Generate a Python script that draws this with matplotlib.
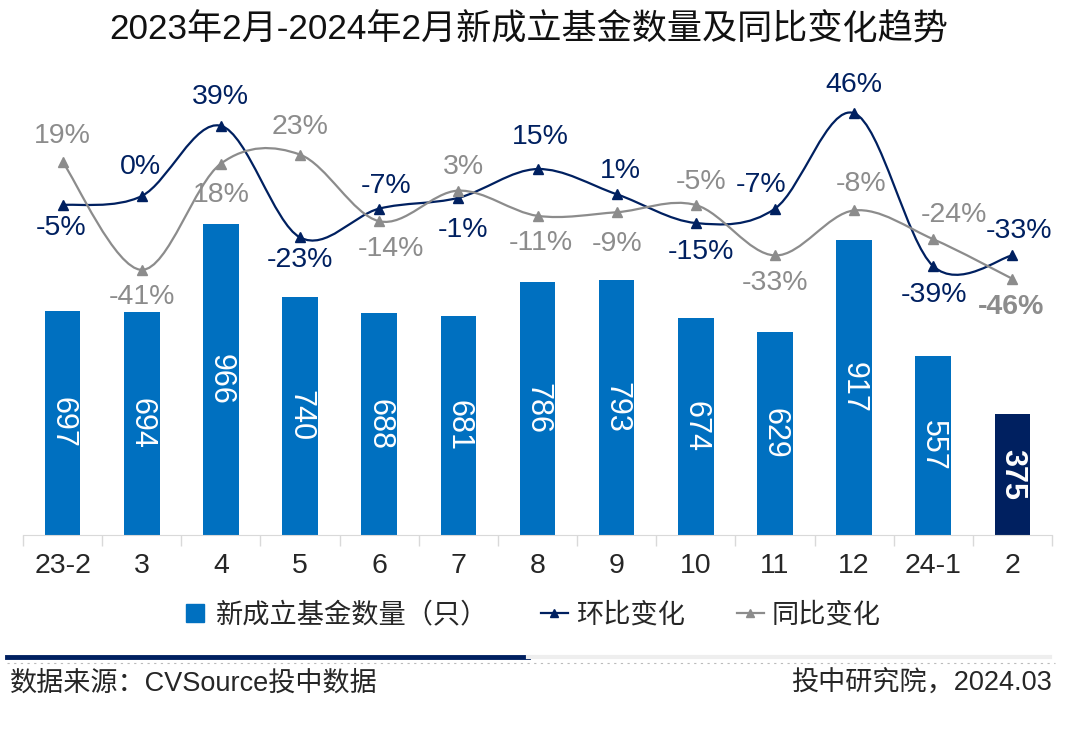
#!/usr/bin/env python3
"""
New funds per month (Feb 2023 - Feb 2024) with MoM / YoY change curves
"""

import numpy as np
import matplotlib
matplotlib.use("Agg")
import matplotlib.pyplot as plt
from matplotlib.path import Path
from matplotlib.patches import PathPatch
from matplotlib.lines import Line2D

plt.rcParams['font.family'] = ['Liberation Sans', 'Noto Sans CJK SC', 'DejaVu Sans']

months = ['23-2', '3', '4', '5', '6', '7', '8', '9', '10', '11', '12', '24-1', '2']
new_funds = [697, 694, 966, 740, 688, 681, 786, 793, 674, 629, 917, 557, 375]
mom_pct = [-5, 0, 39, -23, -7, -1, 15, 1, -15, -7, 46, -39, -33]
yoy_pct = [19, -41, 18, 23, -14, 3, -11, -9, -5, -33, -8, -24, -46]

BLUE = '#0070C0'
NAVY = '#002060'
GRAY = '#8C8C8C'
TXT = '#262626'

# label offsets in pixels (dx, dy), positive dy = up
mom_off = [(-2, -23), (-1, 29), (0, 29), (0, -23), (7, 23), (5, -32), (3, 32), (4, 23),
           (5, -29), (-14, 24), (0, 28), (1, -29), (7, 24)]
yoy_off = [(0, 26), (0, -27), (0, -31), (0, 28), (12, -28), (5, 24), (3, -27), (0, -32),
           (5, 23), (0, -28), (7, 26), (21, 24), (-1, -28)]


def smooth_path(xs, ys):
    # Catmull-Rom through the points, written as cubic Bezier segments
    pts = np.column_stack([xs, ys]).astype(float)
    ext = np.vstack([pts[0], pts, pts[-1]])
    verts = [tuple(pts[0])]
    codes = [Path.MOVETO]
    for i in range(len(pts) - 1):
        p0, p1, p2, p3 = ext[i], ext[i + 1], ext[i + 2], ext[i + 3]
        c1 = p1 + (p2 - p0) / 6.0
        c2 = p2 - (p3 - p1) / 6.0
        verts += [tuple(c1), tuple(c2), tuple(p2)]
        codes += [Path.CURVE4] * 3
    return Path(verts, codes)


fig = plt.figure(figsize=(10.8, 7.29), dpi=100)
ax = fig.add_axes([23 / 1080, 194 / 729, 1029 / 1080, 445 / 729])
ax2 = ax.twinx()

x = np.arange(len(months))
colors = [BLUE] * (len(months) - 1) + [NAVY]
bars = ax.bar(x, new_funds, width=0.45, color=colors, zorder=2)
for i, (b, v) in enumerate(zip(bars, new_funds)):
    ax.text(b.get_x() + b.get_width() / 2, v / 2, str(v), rotation=270,
            ha='center', va='center', color='white', fontsize=22,
            fontweight='bold' if i == len(months) - 1 else 'normal')

ax.set_xlim(-0.5, len(months) - 0.5)
ax.set_ylim(0, 1382)
ax.set_yticks([])
for s in ['left', 'right', 'top']:
    ax.spines[s].set_visible(False)
ax.spines['bottom'].set_color('#D9D9D9')
ax.set_xticks(x)
ax.set_xticklabels(months, fontsize=20.5, color=TXT)
ax.tick_params(axis='x', which='major', length=0, pad=13)
ax.set_xticks(np.arange(-0.5, len(months)), minor=True)
ax.tick_params(axis='x', which='minor', length=8, color='#D9D9D9', width=1)

ax2.set_ylim(-188.3, 58.9)
ax2.set_yticks([])
for s in ax2.spines.values():
    s.set_visible(False)

for vals, col in [(mom_pct, NAVY), (yoy_pct, GRAY)]:
    ax2.add_patch(PathPatch(smooth_path(x, vals), facecolor='none', edgecolor=col,
                            lw=1.6, zorder=3))
    ax2.plot(x, vals, linestyle='none', marker='^', markersize=7, color=col, zorder=4)

for i, v in enumerate(mom_pct):
    dx, dy = mom_off[i]
    ax2.annotate(f'{v}%', (x[i], v), xytext=(dx, dy), textcoords='offset pixels',
                 ha='center', va='center', fontsize=20.5, color=NAVY, zorder=5)
for i, v in enumerate(yoy_pct):
    dx, dy = yoy_off[i]
    ax2.annotate(f'{v}%', (x[i], v), xytext=(dx, dy), textcoords='offset pixels',
                 ha='center', va='center', fontsize=20.5, color=GRAY, zorder=5,
                 fontweight='bold' if i == len(months) - 1 else 'normal')

fig.text(529 / 1080, 1 - 30 / 729, '2023年2月-2024年2月新成立基金数量及同比变化趋势',
         ha='center', va='center', fontsize=25.3, color='#111111')

handles = [
    Line2D([], [], linestyle='none', marker='s', markersize=13, color=BLUE),
    Line2D([], [], color=NAVY, lw=1.6, marker='^', markersize=6),
    Line2D([], [], color=GRAY, lw=1.6, marker='^', markersize=6),
]
fig.legend(handles, ['新成立基金数量（只）', '环比变化', '同比变化'], loc='center',
           bbox_to_anchor=(531 / 1080, 1 - 616 / 729), ncol=3, frameon=False,
           fontsize=19.6, handlelength=1.0, handletextpad=0.3, columnspacing=1.9,
           labelcolor=TXT)

# footer rules
fig.add_artist(Line2D([7 / 1080, 528 / 1080], [1 - 657 / 729] * 2, color=NAVY, lw=3.5))
fig.add_artist(Line2D([528 / 1080, 1050 / 1080], [1 - 657 / 729] * 2, color='#EEEEEE', lw=3))
fig.add_artist(Line2D([7 / 1080, 1055 / 1080], [1 - 663 / 729] * 2, color='#BBBBBB',
                      lw=0.8, linestyle=(0, (2, 4))))
fig.text(10 / 1080, 1 - 684 / 729, '数据来源：CVSource投中数据', ha='left', va='center',
         fontsize=19.5, color=TXT)
fig.text(1052 / 1080, 1 - 684 / 729, '投中研究院，2024.03', ha='right', va='center',
         fontsize=19.5, color=TXT)

fig.savefig('out.png', dpi=100)
